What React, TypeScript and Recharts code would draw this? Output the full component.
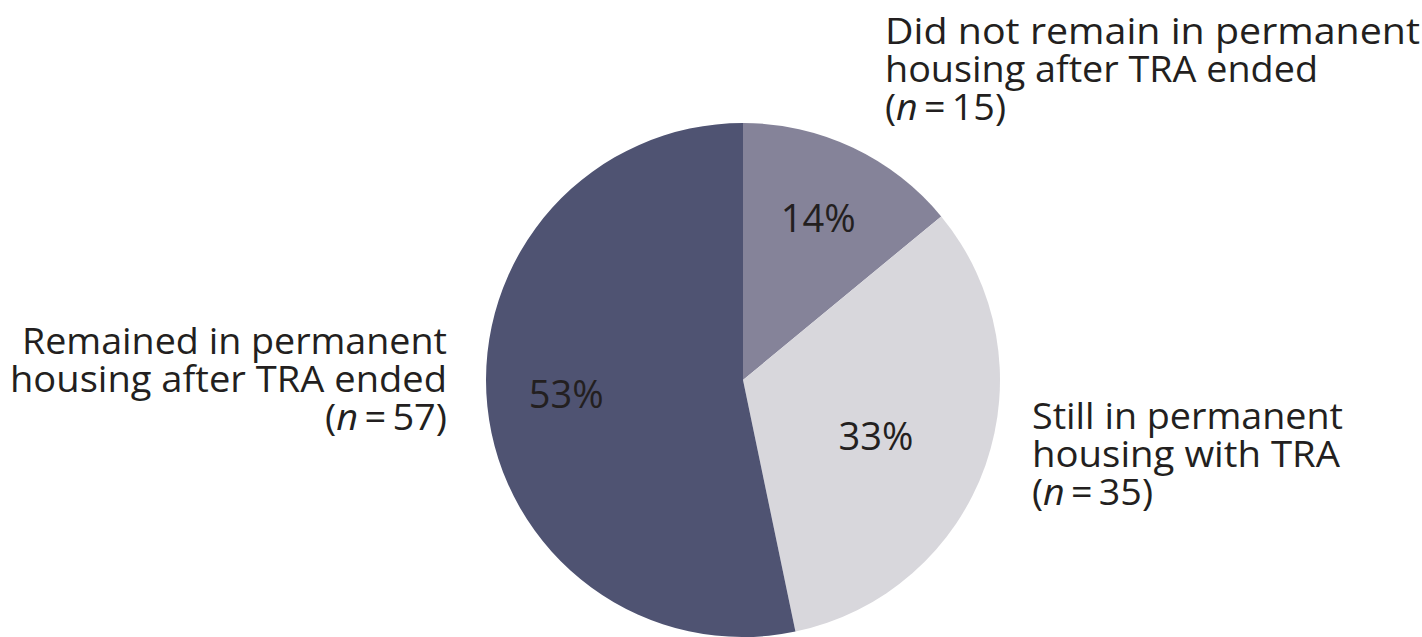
import React from "react";
import { PieChart, Pie, Cell } from "recharts";

const categories = [
  "Did not remain in permanent housing after TRA ended",
  "Still in permanent housing with TRA",
  "Remained in permanent housing after TRA ended",
];
const counts = [15, 35, 57];
const categoryLines = [
  ["Did not remain in permanent", "housing after TRA ended"],
  ["Still in permanent", "housing with TRA"],
  ["Remained in permanent", "housing after TRA ended"],
];
const sliceColors = ["#858399", "#d8d7dc", "#4f5372"];

// layout / style constants
const W = 1422;
const H = 637;
const CX = 743;
const CY = 380;
const R = 257;
const FONT = "'Open Sans', 'Noto Sans', sans-serif";
const TEXT_COLOR = "#231f20";
const PCT_RADIUS = [0.7, 0.56, 0.69];
const PCT_SHIFT = [0.5, -3.1, -1.7];
const OUTER_LABEL_LAYOUT = [
  { x: 885, anchor: "start", baselines: [44, 82, 120], lengths: [535, 433, 121] },
  { x: 1032, anchor: "start", baselines: [429, 467, 505], lengths: [311, 308, 121] },
  { x: 447, anchor: "end", baselines: [354, 392, 430], lengths: [425, 437, 122] },
];

const data = categories.map((name, i) => ({ name, value: counts[i] }));

const RAD = Math.PI / 180;
const renderPct = (props: any) => {
  const { cx, cy, midAngle, outerRadius, percent, index } = props;
  const a = (midAngle + PCT_SHIFT[index]) * RAD;
  const r = outerRadius * PCT_RADIUS[index];
  const x = cx + r * Math.cos(a);
  const y = cy - r * Math.sin(a);
  return (
    <text
      x={x}
      y={y}
      textAnchor="middle"
      dominantBaseline="central"
      fill={TEXT_COLOR}
      fontFamily={FONT}
      fontSize={38}
    >
      {`${Math.round(percent * 100)}%`}
    </text>
  );
};

export default function App() {
  return (
    <div style={{ position: "absolute", left: 0, top: 0, width: W, height: H, background: "#fff", overflow: "hidden" }}>
      <PieChart width={W} height={H} margin={{ top: 0, right: 0, bottom: 0, left: 0 }}>
        <Pie
          data={data}
          dataKey="value"
          nameKey="name"
          cx={CX}
          cy={CY}
          outerRadius={R}
          startAngle={90}
          endAngle={-270}
          stroke="none"
          label={renderPct}
          labelLine={false}
          isAnimationActive={false}
        >
          {data.map((d, i) => (
            <Cell key={d.name} fill={sliceColors[i]} />
          ))}
        </Pie>
      </PieChart>
      <svg width={W} height={H} style={{ position: "absolute", left: 0, top: 0, pointerEvents: "none" }}>
        {categoryLines.map((lines, i) => {
          const lay = OUTER_LABEL_LAYOUT[i];
          return (
            <text
              key={i}
              fontFamily={FONT}
              fontSize={37}
              fill={TEXT_COLOR}
              textAnchor={lay.anchor as any}
            >
              {lines.map((ln, j) => (
                <tspan
                  key={j}
                  x={lay.x}
                  y={lay.baselines[j]}
                  textLength={lay.lengths[j]}
                  lengthAdjust="spacingAndGlyphs"
                >
                  {ln}
                </tspan>
              ))}
              <tspan x={lay.x} y={lay.baselines[2]} textLength={lay.lengths[2]} lengthAdjust="spacingAndGlyphs">
                (<tspan fontStyle="italic">n</tspan>
                {`\u2009=\u2009${counts[i]})`}
              </tspan>
            </text>
          );
        })}
      </svg>
    </div>
  );
}
